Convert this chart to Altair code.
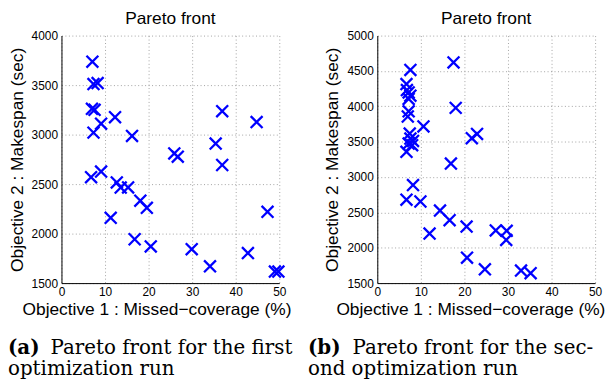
import altair as alt
import pandas as pd

# ---- data ----
run1_cov = [7.1, 7.35, 8.3, 7.0, 7.6, 9.1, 12.3, 7.35, 16.2, 6.8, 9.1, 12.7, 13.6, 15.3,
            18.1, 19.6, 11.3, 16.8, 20.5, 25.9, 26.7, 35.4, 36.9, 36.9, 44.8, 29.9, 34.1,
            47.3, 42.8, 49.0, 49.8]
run1_span = [3736, 3510, 3520, 3260, 3250, 3110, 3176, 3020, 2986, 2570, 2627, 2517, 2465, 2466,
             2333, 2260, 2160, 1943, 1870, 2810, 2777, 2910, 3237, 2693, 3127, 1843, 1670,
             2220, 1803, 1617, 1617]

run2_cov = [7.6, 17.5, 6.7, 6.8, 7.2, 7.6, 7.2, 7.2, 7.0, 10.6, 7.45, 7.6, 8.2, 7.2, 8.0, 6.7,
            18.0, 21.7, 22.9, 16.9, 8.2, 6.7, 9.9, 14.4, 16.6, 12.0, 20.5, 27.2, 29.7, 29.6,
            20.6, 24.7, 33.0, 35.2]
run2_span = [4514, 4620, 4314, 4230, 4197, 4150, 4104, 3930, 3856, 3716, 3614, 3544, 3510, 3474,
             3450, 3356, 3978, 3550, 3610, 3190, 2886, 2680, 2654, 2526, 2390, 2200, 2300, 2245,
             2240, 2110, 1860, 1695, 1677, 1640]

x_ticks = [0, 10, 20, 30, 40, 50]
y_ticks_1 = [1500, 2000, 2500, 3000, 3500, 4000]
y_ticks_2 = [1500, 2000, 2500, 3000, 3500, 4000, 4500, 5000]

panel_title = "Pareto front"
x_title = "Objective 1 : Missed\u2212coverage (%)"
y_title = "Objective 2 : Makespan (sec)"

cap_a = ["(a)", "Pareto front for the first", "optimization run"]
cap_b = ["(b)", "Pareto front for the sec-", "ond optimization run"]

XSHAPE = "M-1,-1L1,1M-1,1L1,-1"
SANS = "Liberation Sans"
SERIF = "DejaVu Serif"


def text_layer(txt, x, y, bold=False):
    return alt.Chart(pd.DataFrame({"t": [txt]})).mark_text(
        font=SERIF, fontSize=20, fontWeight="bold" if bold else "normal",
        align="left", baseline="alphabetic", color="#000000"
    ).encode(text="t:N", x=alt.value(x), y=alt.value(y))


def panel(xs, ys, ydom, yticks, cap, title_x, lab_x, second_x):
    df = pd.DataFrame({"cov": xs, "span": ys})
    pts = alt.Chart(df).mark_point(
        shape=XSHAPE, size=144, filled=False, color="#0000ff",
        strokeWidth=2.3, opacity=1
    ).encode(
        x=alt.X("cov:Q", scale=alt.Scale(domain=[0, 50], nice=False, zero=False),
                axis=alt.Axis(values=x_ticks, title=x_title, titleX=title_x, format="d",
                              labelFlush=False, labelOverlap=False,
                              labelPadding=4, titlePadding=3)),
        y=alt.Y("span:Q", scale=alt.Scale(domain=ydom, nice=False, zero=False),
                axis=alt.Axis(values=yticks, title=y_title, format="d", labelFlush=False,
                              labelOverlap=False, labelPadding=4, titlePadding=5)),
    )
    layers = [
        pts,
        text_layer(cap[0], lab_x, 322, bold=True),
        text_layer(cap[1], second_x, 322),
        text_layer(cap[2], lab_x, 343),
    ]
    return alt.layer(*layers).properties(
        width=220, height=250,
        title=alt.TitleParams(panel_title)
    )


left = panel(run1_cov, run1_span, [1500, 4000], y_ticks_1, cap_a, 96, -54, -11)
right = panel(run2_cov, run2_span, [1500, 5000], y_ticks_2, cap_b, 94, -70, -25)

chart = alt.hconcat(left, right, spacing=99, bounds="flush").properties(
    padding={"left": 0, "top": 0, "right": 0, "bottom": 0}
).configure_view(stroke=None).configure_axis(
    labelFont=SANS, labelFontSize=12, labelColor="#000000",
    titleFont=SANS, titleFontSize=17.5, titleFontWeight="normal", titleColor="#000000",
    domainColor="#000000", domainWidth=1, ticks=False,
    gridColor="#8c8c8c", gridDash=[1, 2.5], gridWidth=0.8,
).configure_title(
    font=SANS, fontSize=17.5, fontWeight="normal", color="#000000", offset=2
)

chart.save("out.html", embed_options={"renderer": "svg", "actions": False})
